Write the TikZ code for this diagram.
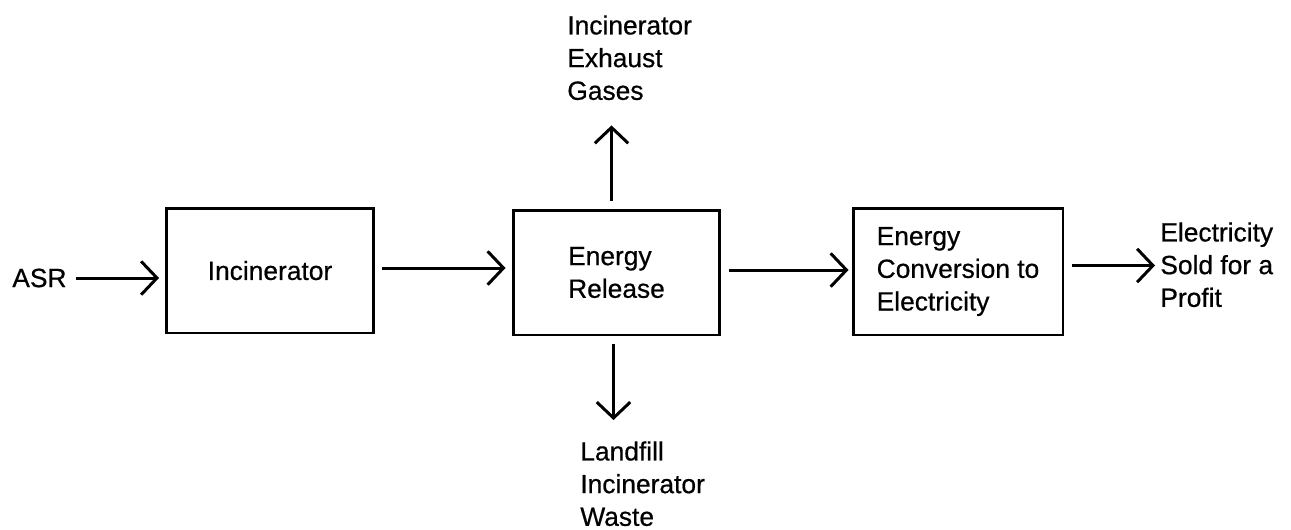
\documentclass[tikz,border=0pt]{standalone}
\usepackage{fontspec}
\setmainfont[FakeBold=0.6]{Liberation Sans}
\usetikzlibrary{arrows.meta, positioning}

\begin{document}
\begin{tikzpicture}[
    x=0.02cm, y=-0.02cm,
    every node/.style={font=\fontsize{15}{18.6}\selectfont},
    blk/.style={draw, line width=1.7pt, minimum width=4.14cm, minimum height=2.5cm, align=left, inner sep=2pt},
    txt/.style={align=left, inner sep=0pt},
    a/.style={-{Straight Barb[length=9pt, width=19pt]}, line width=1.7pt, shorten <=0.15cm, shorten >=0.12cm}
]
\useasboundingbox (0,0) rectangle (1291,529);
% main chain
\node[txt, anchor=west] (asr) at (12,278) {ASR};
\node[blk] (inc) at (270,270.5) {Incinerator};
\node[blk] (er)  at (616.5,272.5) {Energy\\Release};
\node[blk, minimum width=4.2cm, minimum height=2.54cm] (ec) at (958,271.5) {Energy\\Conversion to\\Electricity};
\node[txt, anchor=north west] (out) at (1160,222) {Electricity\\Sold for a\\Profit};
\draw[a, shorten <=0.18cm] (asr.east) -- (asr.east -| inc.west);
\draw[a] ([yshift=0.05cm]inc.east) -- ([yshift=0.05cm]inc.east -| er.west);
\draw[a, shorten >=0.06cm] ([yshift=0.05cm]er.east) -- ([yshift=0.05cm]er.east -| ec.west);
\draw[a, shorten >=0.1cm] ([yshift=0.12cm]ec.east) -- ([yshift=0.12cm]ec.east -| out.west);
% side streams
\node[txt, anchor=north west] (exh)  at (567,15)  {Incinerator\\Exhaust\\Gases};
\node[txt, anchor=north west] (land) at (580,441) {Landfill\\Incinerator\\Waste};
\draw[a, shorten >=0.5cm] ([xshift=-0.1cm]er.north) -- ([xshift=-0.1cm]er.north |- exh.south);
\draw[a, shorten >=0.42cm] ([xshift=-0.06cm]er.south) -- ([xshift=-0.06cm]er.south |- land.north);
\end{tikzpicture}
\end{document}
